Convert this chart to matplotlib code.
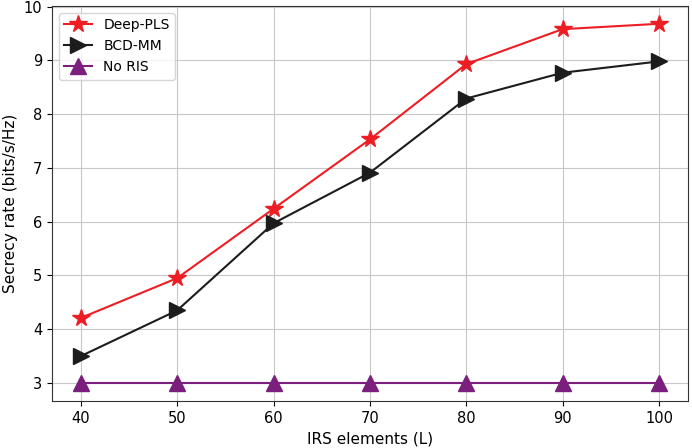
import matplotlib
matplotlib.use("Agg")
from matplotlib import pyplot as plt

irs_elements = [40, 50, 60, 70, 80, 90, 100]
deep_pls = [4.21, 4.95, 6.24, 7.53, 8.93, 9.58, 9.68]
bcd_mm = [3.50, 4.35, 5.97, 6.91, 8.29, 8.77, 8.98]
no_ris = [3.0, 3.0, 3.0, 3.0, 3.0, 3.0, 3.0]

plt.rcParams["axes.edgecolor"] = "#333333"

plt.figure(figsize=(6.92, 4.48), dpi=100)
plt.plot(irs_elements, deep_pls, color="#ee1d23", marker="*", markersize=13, label="Deep-PLS")
plt.plot(irs_elements, bcd_mm, color="#1c1c1c", marker=">", markersize=12, label="BCD-MM")
plt.plot(irs_elements, no_ris, color="#7a1f7e", marker="^", markersize=12, label="No RIS")

plt.xlabel("IRS elements (L)", fontsize=11)
plt.ylabel("Secrecy rate (bits/s/Hz)", fontsize=11)
plt.xticks(fontsize=10.5)
plt.yticks(fontsize=10.5)
plt.grid(True, color="#c8c8c8")
plt.legend(loc="upper left", fontsize=10)
plt.subplots_adjust(left=0.075, right=0.994, top=0.987, bottom=0.105)
plt.savefig("out.png")
